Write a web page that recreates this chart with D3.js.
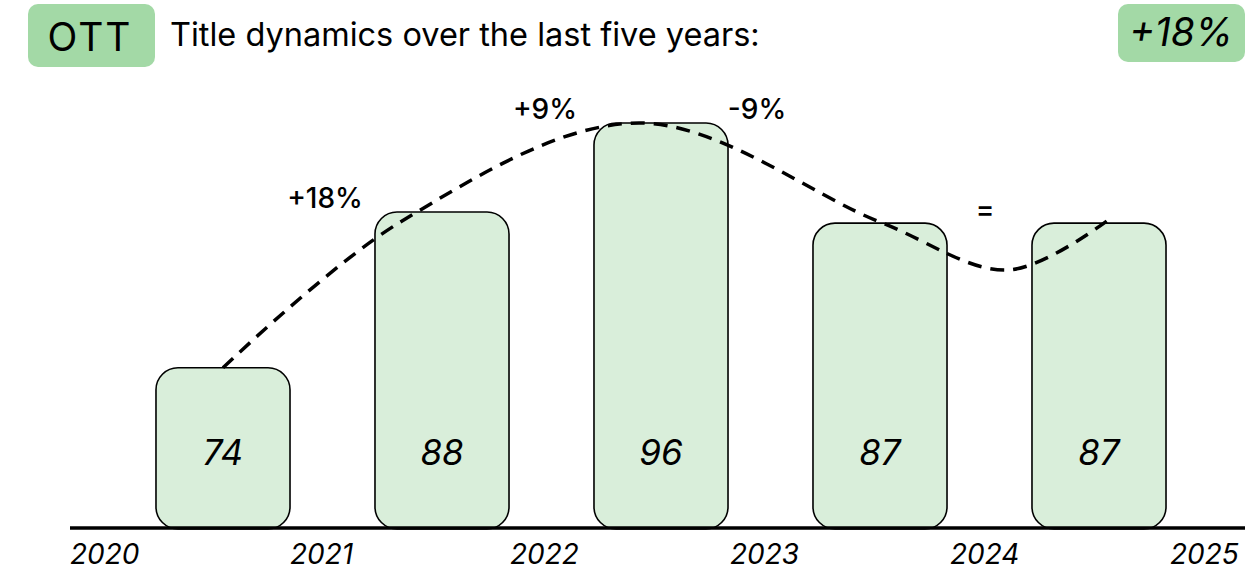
<!DOCTYPE html>
<html>
<head>
<meta charset="utf-8">
<script src="https://cdn.jsdelivr.net/npm/d3@7"></script>
<style>
  body { margin: 0; background: #fff; }
  text { font-family: Inter, "DejaVu Sans", sans-serif; }
</style>
</head>
<body>
<svg id="chart"></svg>
<script>
// Data
const years = [2020, 2021, 2022, 2023, 2024];
const titles = [74, 88, 96, 87, 87];
const tickYears = [2020, 2021, 2022, 2023, 2024, 2025];
const changes = ["+18%", "+9%", "-9%", "="];
const totalChange = "+18%";
// trend curve, in bar-index / value units
const trendIdx = [0, 0.81, 1.9, 3.0, 3.59, 4.05];
const trendVal = [74, 87.1, 96, 87.1, 82.8, 87.4];

const svg = d3.select("#chart")
    .attr("width", 1256)
    .attr("height", 577);

const baseY = 528;

// Scales
const x = d3.scaleBand()
    .domain(years)
    .range([113.5, 1208.5])
    .paddingInner(0.388)
    .paddingOuter(0.194);

const y = d3.scaleLinear()
    .domain([59.6, 96])
    .range([baseY, 123]);

const xYear = d3.scaleLinear()
    .domain([2020, 2025])
    .range([70, 1170]);

const idxX = i => x(years[0]) + x.bandwidth() / 2 + i * x.step();

// Header
svg.append("rect")
    .attr("x", 28).attr("y", 4)
    .attr("width", 127).attr("height", 63)
    .attr("rx", 10)
    .attr("fill", "#a3d9a6");
svg.append("text")
    .attr("x", 90).attr("y", 51)
    .attr("text-anchor", "middle")
    .attr("font-size", 39)
    .attr("letter-spacing", 2)
    .text("OTT");
svg.append("text")
    .attr("x", 170).attr("y", 46)
    .attr("font-size", 32.5)
    .text("Title dynamics over the last five years:");

svg.append("rect")
    .attr("x", 1118).attr("y", 4)
    .attr("width", 127).attr("height", 58)
    .attr("rx", 10)
    .attr("fill", "#a3d9a6");
svg.append("text")
    .attr("x", 1181).attr("y", 46)
    .attr("text-anchor", "middle")
    .attr("font-size", 39)
    .attr("font-style", "italic")
    .text(totalChange);

// Bars
svg.append("g")
    .selectAll("rect")
    .data(years)
    .enter().append("rect")
    .attr("x", d => x(d))
    .attr("y", (d, i) => y(titles[i]))
    .attr("width", x.bandwidth())
    .attr("height", (d, i) => baseY - y(titles[i]) + 1)
    .attr("rx", 22)
    .attr("fill", "#d9eeda")
    .attr("stroke", "#000")
    .attr("stroke-width", 1.6);

// Bar value labels
svg.append("g")
    .selectAll("text")
    .data(years)
    .enter().append("text")
    .attr("x", d => x(d) + x.bandwidth() / 2)
    .attr("y", 465)
    .attr("text-anchor", "middle")
    .attr("font-size", 35)
    .attr("font-style", "italic")
    .text((d, i) => titles[i]);

// Baseline
svg.append("line")
    .attr("x1", 70).attr("x2", 1245)
    .attr("y1", baseY).attr("y2", baseY)
    .attr("stroke", "#000")
    .attr("stroke-width", 3.5);

// Year tick labels
svg.append("g")
    .selectAll("text")
    .data(tickYears)
    .enter().append("text")
    .attr("x", d => xYear(d))
    .attr("y", 564)
    .attr("font-size", 28)
    .attr("font-style", "italic")
    .text(d => d);

// Trend curve
const line = d3.line()
    .x(d => idxX(d[0]))
    .y(d => y(d[1]))
    .curve(d3.curveCatmullRom.alpha(0.5));

svg.append("path")
    .datum(trendIdx.map((t, i) => [t, trendVal[i]]))
    .attr("d", line)
    .attr("fill", "none")
    .attr("stroke", "#000")
    .attr("stroke-width", 3.5)
    .attr("stroke-dasharray", "14,9");

// Change labels
svg.append("g")
    .selectAll("text")
    .data(changes)
    .enter().append("text")
    .attr("x", (d, i) => xYear(years[i + 1]) + 35 - (i === 2 ? 8 : 0))
    .attr("y", (d, i) => y(Math.max(titles[i], titles[i + 1])) - 4)
    .attr("text-anchor", "middle")
    .attr("font-size", 28)
    .attr("font-weight", 500)
    .text(d => d);
</script>
</body>
</html>
